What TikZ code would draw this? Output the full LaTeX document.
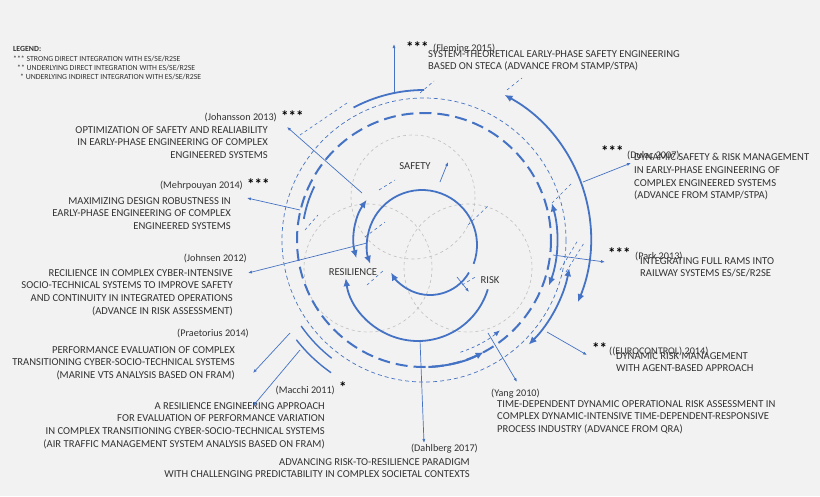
\documentclass[tikz,border=0pt]{standalone}
\usepackage{fontspec}
\setmainfont{Carlito}
\usepackage{xcolor}
\usetikzlibrary{calc,arrows.meta}
\definecolor{bl}{HTML}{4472C4}
\definecolor{tx}{HTML}{333333}
\tikzset{
  lbl/.style={font=\fontsize{10.6}{12.8}\selectfont, text=tx, inner sep=0pt, align=left},
  lblr/.style={lbl, align=right},
  cite/.style={font=\fontsize{10.2}{12}\selectfont, text=tx, inner sep=0pt},
  stars/.style={font=\bfseries\fontsize{15}{15}\selectfont, text=black, inner sep=0pt},
  leg/.style={font=\fontsize{7.8}{9}\selectfont, text=tx, anchor=west, inner sep=0pt},
  ptr/.style={bl, line width=0.7pt, -{Latex[length=4pt,width=3pt]}},
  tick/.style={bl, line width=0.6pt, dashed},
  big/.style={bl, line width=1.8pt},
  bigtip/.style={-{Latex[length=8pt,width=7pt]}},
}
\begin{document}
\begin{tikzpicture}[x=1pt,y=-1pt]
  \fill[white!95!black] (0,0) rectangle (820,496);
  \useasboundingbox (0,0) rectangle (820,496);
  \coordinate (c) at (424,240);
  % venn circles
  \draw[gray!50, dashed, line width=0.6pt] (413,197) circle[radius=62];
  \draw[gray!50, dashed, line width=0.6pt] (368,268) circle[radius=64];
  \draw[gray!50, dashed, line width=0.6pt] (468,268) circle[radius=64];
  % rings
  \draw[bl, line width=0.7pt, dash pattern=on 4pt off 3pt] (c) circle[radius=142];
  \draw[bl, line width=2pt, dash pattern=on 12pt off 6pt] (c) circle[radius=127];
  \draw[bl, line width=2pt, bigtip] (c) ++(88:127) arc[start angle=88, end angle=62, radius=127];
  \draw[bl, line width=0.7pt, dashed, -{Latex[length=6pt,width=5pt]}] (c) ++(72:118) arc[start angle=72, end angle=50, radius=118];
  % inner arcs
  \draw[big, bigtip] (422,245) ++(20:55) arc[start angle=20, end angle=-200, radius=55];
  \draw[big, bigtip] (430,250) ++(30:45) arc[start angle=30, end angle=150, radius=45];
  \draw[big, bigtip] (418,268) ++(17:73) arc[start angle=17, end angle=172, radius=73];
  \draw[big, {Latex[length=8pt,width=7pt]}-{Latex[length=8pt,width=7pt]}] (c) ++(215:70) arc[start angle=215, end angle=165, radius=70];
  % outer arcs right
  \draw[big, {Latex[length=8pt,width=7pt]}-{Latex[length=8pt,width=7pt]}] (c) ++(-16:133) arc[start angle=-16, end angle=20, radius=133];
  \draw[big, {Latex[length=8pt,width=7pt]}-{Latex[length=8pt,width=7pt]}] (c) ++(11:148) arc[start angle=11, end angle=45, radius=148];
  \draw[big, {Latex[length=8pt,width=7pt]}-{Latex[length=8pt,width=7pt]}] (c) ++(-61:166) arc[start angle=-61, end angle=22, radius=166];
  % short solid arcs
  \draw[big] (c) ++(-118:150) arc[start angle=-118, end angle=-90, radius=150];
  \draw[big] (c) ++(190:122) arc[start angle=190, end angle=206, radius=122];
  \draw[bl, line width=1.4pt] (c) ++(128:150) arc[start angle=128, end angle=145, radius=150];
  \draw[bl, line width=1.4pt] (c) ++(125:162) arc[start angle=125, end angle=142, radius=162];
  % dashed ticks
  \draw[tick] (420,93) -- (434,81);
  \draw[tick] (507,90) -- (522,78);
  \draw[tick] (552,203) -- (572,183);
  \draw[tick] (560,270) -- (578,240);
  \draw[tick] (566,272) -- (584,243);
  \draw[tick] (379,190) -- (395,180);
  \draw[tick] (365,237) -- (385,222);
  \draw[tick] (367,285) -- (384,270);
  \draw[tick] (468,225) -- (488,206);
  \draw[tick] (462,285) -- (477,276);
  \draw[tick] (305,230) -- (318,215);
  \draw[tick] (347,103) -- (300,135);
  % legend
  \node[leg, font=\bfseries\fontsize{7.8}{9}\selectfont] (legh) at (13,49) {LEGEND:};
  \node[leg] (leg3) at (13,59) {*** STRONG DIRECT INTEGRATION WITH ES/SE/R2SE};
  \node[leg] (leg2) at (17,68) {** UNDERLYING DIRECT INTEGRATION WITH ES/SE/R2SE};
  \node[leg] (leg1) at (20,77) {* UNDERLYING INDIRECT INTEGRATION WITH ES/SE/R2SE};
  % center words
  \node[lbl] (safety) at (415,166) {SAFETY};
  \node[lbl] (resil) at (353,272) {RESILIENCE};
  \node[lbl] (risk) at (490,280) {RISK};
  % Fleming
  \node[stars, anchor=west] (s1) at (406,47) {***};
  \node[cite, anchor=west] (fleming) at (433,49) {(Fleming 2015)};
  \node[lbl, anchor=north west] (flemingt) at (428,50) {SYSTEM-THEORETICAL EARLY-PHASE SAFETY ENGINEERING\\BASED ON STECA (ADVANCE FROM STAMP/STPA)};
  % Johansson
  \node[cite, anchor=east] (johansson) at (277,117) {(Johansson 2013)};
  \node[stars, anchor=west] (s2) at (281,116) {***};
  \node[lblr, anchor=north east] (johanssont) at (268,126) {OPTIMIZATION OF SAFETY AND REALIABILITY\\IN EARLY-PHASE ENGINEERING OF COMPLEX\\ENGINEERED SYSTEMS};
  % Mehrpouyan
  \node[cite, anchor=east] (mehr) at (243,186) {(Mehrpouyan 2014)};
  \node[stars, anchor=west] (s3) at (247,184) {***};
  \node[lblr, anchor=north east] (mehrt) at (231,197) {MAXIMIZING DESIGN ROBUSTNESS IN\\EARLY-PHASE ENGINEERING OF COMPLEX\\ENGINEERED SYSTEMS};
  % Johnsen
  \node[cite, anchor=east] (johnsen) at (247,258) {(Johnsen 2012)};
  \node[lblr, anchor=north east] (johnsent) at (233,269) {RECILIENCE IN COMPLEX CYBER-INTENSIVE\\SOCIO-TECHNICAL SYSTEMS TO IMPROVE SAFETY\\AND CONTINUITY IN INTEGRATED OPERATIONS\\(ADVANCE IN RISK ASSESSMENT)};
  % Praetorius
  \node[cite, anchor=east] (praet) at (249,333) {(Praetorius 2014)};
  \node[lblr, anchor=north east] (praett) at (235,346) {PERFORMANCE EVALUATION OF COMPLEX\\TRANSITIONING CYBER-SOCIO-TECHNICAL SYSTEMS\\(MARINE VTS ANALYSIS BASED ON FRAM)};
  % Macchi
  \node[cite, anchor=east] (macchi) at (335,390) {(Macchi 2011)};
  \node[stars, anchor=west] (s4) at (339,387) {*};
  \node[lblr, anchor=north east] (macchit) at (325,402) {A RESILIENCE ENGINEERING APPROACH\\FOR EVALUATION OF PERFORMANCE VARIATION\\IN COMPLEX TRANSITIONING CYBER-SOCIO-TECHNICAL SYSTEMS\\(AIR TRAFFIC MANAGEMENT SYSTEM ANALYSIS BASED ON FRAM)};
  % Dahlberg
  \node[cite, anchor=east] (dahl) at (478,449) {(Dahlberg 2017)};
  \node[lblr, anchor=north east] (dahlt) at (470,458) {ADVANCING RISK-TO-RESILIENCE PARADIGM\\WITH CHALLENGING PREDICTABILITY IN COMPLEX SOCIETAL CONTEXTS};
  % Yang
  \node[cite, anchor=west] (yang) at (491,394) {(Yang 2010)};
  \node[lbl, anchor=north west] (yangt) at (497,400) {TIME-DEPENDENT DYNAMIC OPERATIONAL RISK ASSESSMENT IN\\COMPLEX DYNAMIC-INTENSIVE TIME-DEPENDENT-RESPONSIVE\\PROCESS INDUSTRY (ADVANCE FROM QRA)};
  % Eurocontrol
  \node[stars, anchor=west] (s5) at (592,348) {**};
  \node[cite, anchor=west] (euro) at (609,351) {((EUROCONTROL) 2014)};
  \node[lbl, anchor=north west] (eurot) at (616,352) {DYNAMIC RISK MANAGEMENT\\WITH AGENT-BASED APPROACH};
  % Park
  \node[stars, anchor=west] (s6) at (608,253) {***};
  \node[cite, anchor=west] (park) at (635,256) {(Park 2013)};
  \node[lbl, anchor=north west] (parkt) at (640,257) {INTEGRATING FULL RAMS INTO\\RAILWAY SYSTEMS ES/SE/R2SE};
  % Dulac
  \node[stars, anchor=west] (s7) at (601,151) {***};
  \node[cite, anchor=west] (dulac) at (627,155) {(Dulac 2007)};
  \node[lbl, anchor=north west] (dulact) at (634,153) {DYNAMIC SAFETY \& RISK MANAGEMENT\\IN EARLY-PHASE ENGINEERING OF\\COMPLEX ENGINEERED SYSTEMS\\(ADVANCE FROM STAMP/STPA)};
  % pointers
  \coordinate (p1) at (394,94);   \coordinate (q1) at (394,44);
  \coordinate (p2) at (362,193);  \coordinate (q2) at (287,127);
  \coordinate (p3) at (300,210);  \coordinate (q3) at (247,198);
  \coordinate (p4) at (367,243);  \coordinate (q4) at (248,273);
  \coordinate (p5) at (290,333);  \coordinate (q5) at (253,373);
  \coordinate (p6) at (300,350);  \coordinate (q6) at (253,406);
  \coordinate (p7) at (420,340);  \coordinate (q7) at (424,443);
  \coordinate (p8) at (488,333);  \coordinate (q8) at (517,382);
  \coordinate (p9) at (547,332);  \coordinate (q9) at (587,355);
  \coordinate (p10) at (553,255); \coordinate (q10) at (605,262);
  \coordinate (p11) at (583,182); \coordinate (q11) at (631,163);
  \coordinate (p12) at (440,182); \coordinate (q12) at (448,162);
  \coordinate (p13) at (457,277); \coordinate (q13) at (469,292);
  \foreach \i in {1,...,13} {
    \draw[ptr] (p\i) -- (q\i);
  }
\end{tikzpicture}
\end{document}
